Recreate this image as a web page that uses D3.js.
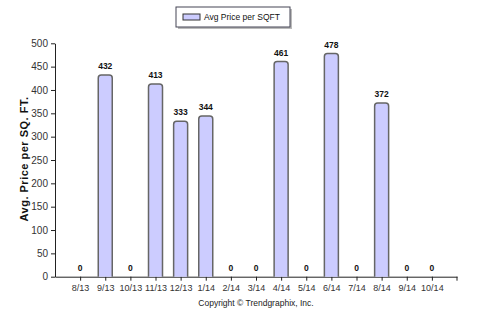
<!DOCTYPE html>
<html>
<head>
<meta charset="utf-8">
<script src="https://cdn.jsdelivr.net/npm/d3@7"></script>
<style>
  html, body { margin: 0; padding: 0; background: #fff; }
  svg { display: block; font-family: "Liberation Sans", Arial, sans-serif; }
</style>
</head>
<body>
<svg id="chart" width="488" height="327"></svg>
<script>
// Monthly average price per square foot
const months = ["8/13", "9/13", "10/13", "11/13", "12/13", "1/14", "2/14", "3/14",
                "4/14", "5/14", "6/14", "7/14", "8/14", "9/14", "10/14"];
const avgPrice = [0, 432, 0, 413, 333, 344, 0, 0, 461, 0, 478, 0, 372, 0, 0];
const yTicks = [0, 50, 100, 150, 200, 250, 300, 350, 400, 450, 500];
const seriesName = "Avg Price per SQFT";
const yTitle = "Avg. Price per SQ. FT.";
const footer = "Copyright \u00A9 Trendgraphix, Inc.";

const svg = d3.select("#chart");
const plotLeft = 55, plotRight = 457, plotTop = 43.3, plotBottom = 276.7;

const x = d3.scalePoint().domain(months).range([plotLeft, plotRight]).padding(1);
const y = d3.scaleLinear().domain([0, 500]).range([plotBottom, plotTop]);

const axisColor = "#222";
const textColor = "#333";

// Y axis
const yAxis = svg.append("g")
  .attr("transform", `translate(${plotLeft},0)`)
  .call(d3.axisLeft(y).tickValues(yTicks).tickSize(4).tickSizeOuter(0).tickPadding(3));
yAxis.select(".domain").attr("stroke", axisColor);
yAxis.selectAll(".tick line").attr("stroke", axisColor);
yAxis.selectAll(".tick text")
  .attr("fill", textColor).style("font-size", "10px")
  .style("font-family", "'Liberation Sans', Arial, sans-serif");

// X axis
const xAxis = svg.append("g")
  .attr("transform", `translate(0,${plotBottom})`)
  .call(d3.axisBottom(x).tickSize(4).tickSizeOuter(0).tickPadding(4));
xAxis.select(".domain").attr("stroke", axisColor);
xAxis.selectAll(".tick line").attr("stroke", axisColor);
xAxis.selectAll(".tick text")
  .attr("fill", textColor).style("font-size", "9px")
  .style("font-family", "'Liberation Sans', Arial, sans-serif");
// closing tick at the right end of the axis
xAxis.append("line")
  .attr("x1", plotRight).attr("x2", plotRight).attr("y1", 0).attr("y2", 4)
  .attr("stroke", axisColor);

// Bars with rounded tops
const barW = 14, r = 3;
function barPath(cx, v) {
  const x0 = cx - barW / 2, x1 = cx + barW / 2;
  const yt = y(v), yb = y(0);
  return `M${x0},${yb} L${x0},${yt + r} Q${x0},${yt} ${x0 + r},${yt} ` +
         `L${x1 - r},${yt} Q${x1},${yt} ${x1},${yt + r} L${x1},${yb}`;
}
const data = months.map((m, i) => ({ m, v: avgPrice[i] }));

svg.append("g").selectAll("path")
  .data(data.filter(d => d.v > 0))
  .join("path")
  .attr("d", d => barPath(x(d.m), d.v))
  .attr("fill", "#ccccff")
  .attr("stroke", "#666")
  .attr("stroke-width", 1.5);

// Value labels
svg.append("g").selectAll("text")
  .data(data)
  .join("text")
  .attr("x", d => x(d.m))
  .attr("y", d => y(d.v) - 6)
  .attr("text-anchor", "middle")
  .attr("fill", "#111")
  .style("font-size", "8.5px")
  .style("font-weight", "bold")
  .text(d => d.v);

// Y axis title
svg.append("text")
  .attr("transform", `translate(28,159) rotate(-90)`)
  .attr("text-anchor", "middle")
  .attr("fill", "#111")
  .style("font-size", "11px")
  .style("font-weight", "bold")
  .style("letter-spacing", "0.5px")
  .text(yTitle);

// Legend
const lg = svg.append("g").attr("transform", "translate(176,7)");
lg.append("rect").attr("x", 2).attr("y", 2).attr("width", 114).attr("height", 20)
  .attr("fill", "#bbb");
lg.append("rect").attr("x", 0).attr("y", 0).attr("width", 114).attr("height", 20)
  .attr("fill", "#fff").attr("stroke", "#445").attr("stroke-width", 1);
lg.append("rect").attr("x", 7).attr("y", 7).attr("width", 17).attr("height", 6)
  .attr("fill", "#ccccff").attr("stroke", "#333").attr("stroke-width", 1);
lg.append("text").attr("x", 28).attr("y", 13.3)
  .attr("fill", "#111").style("font-size", "8.5px").text(seriesName);

// Footer
svg.append("text")
  .attr("x", 256).attr("y", 306)
  .attr("text-anchor", "middle")
  .attr("fill", "#222")
  .style("font-size", "8.5px")
  .text(footer);
</script>
</body>
</html>
